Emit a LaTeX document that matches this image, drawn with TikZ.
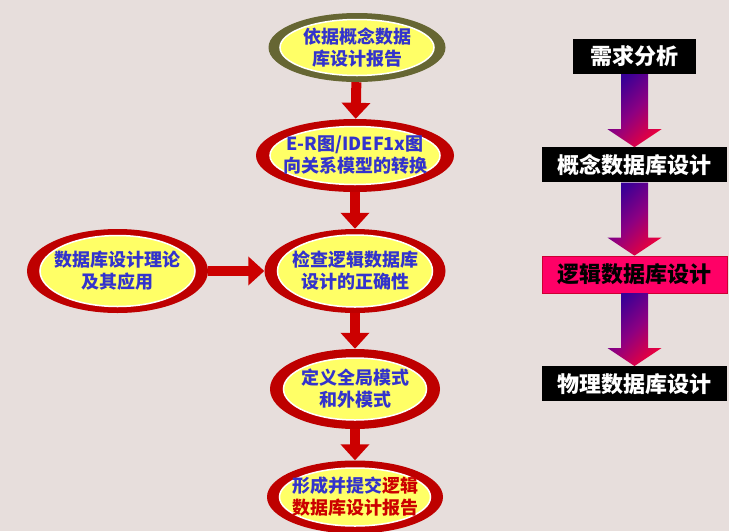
\documentclass[tikz,border=0pt]{standalone}
\usepackage{fontspec}
\newfontfamily\cjk{Noto Sans CJK SC}
\usetikzlibrary{positioning, arrows.meta, shapes.geometric}

\definecolor{bgpaper}{RGB}{231,222,220}
\definecolor{ringred}{RGB}{190,0,0}
\definecolor{ringolive}{RGB}{102,102,51}
\definecolor{coreyellow}{RGB}{255,255,102}
\definecolor{txtblue}{RGB}{51,51,204}
\definecolor{txtred}{RGB}{204,0,0}
\definecolor{flowred}{RGB}{204,0,0}
\definecolor{stagepink}{RGB}{255,0,102}
\definecolor{stageedge}{RGB}{204,0,51}
\definecolor{shadeblue}{RGB}{55,0,150}
\definecolor{shademid}{RGB}{140,0,130}
\definecolor{shadered}{RGB}{235,0,60}

\begin{document}
\begin{tikzpicture}[x=1pt, y=-1pt, node distance=73pt, >=Latex]

\tikzset{
  ring/.style={ellipse, fill=ringred, inner sep=0pt},
  core/.style={
    ellipse, fill=coreyellow, draw=white, line width=1.5pt,
    inner xsep=-30pt, inner ysep=-8pt, align=center, text=txtblue,
    font=\cjk\bfseries\fontsize{18}{22}\selectfont
  },
  flow/.style={-{Triangle[width=28pt, length=16pt]}, line width=10pt, draw=flowred},
  stagebox/.style={
    rectangle, fill=black, text=white, inner sep=0pt,
    minimum width=185pt, minimum height=35pt,
    font=\cjk\bfseries\fontsize{22}{26}\selectfont
  },
  stagearrow/.style={left color=shadeblue, right color=shadered,
    middle color=shademid, shading angle=45}
}

% background
\useasboundingbox (0,0) rectangle (729,531);
\fill[bgpaper] (0,0) rectangle (729,531);

% =========================================================
% Left: flow of the logical design
% =========================================================
\node[ring, fill=ringolive, minimum width=177pt, minimum height=69pt] (plan) at (357,47.5) {};
\node[core, minimum width=154pt, minimum height=56pt] (plantext) at (plan) {依据概念数据\\库设计报告};

\node[ring, minimum width=198pt, minimum height=73pt] (er) at (355,155.5) {};
\node[core, minimum width=170pt, minimum height=58pt] (ertext) at (er) {E-R图/IDEF1x图\\向关系模型的转换};

\node[ring, minimum width=181pt, minimum height=84pt] (check) at (355,271) {};
\node[core, minimum width=155pt, minimum height=72pt] (checktext) at (check) {检查逻辑数据库\\设计的正确性};

\node[ring, minimum width=181pt, minimum height=84pt] (theory) at (117.5,271) {};
\node[core, minimum width=155pt, minimum height=71pt] (theorytext) at (theory) {数据库设计理论\\及其应用};

\node[ring, minimum width=170pt, minimum height=80pt] (schema) at (355,389) {};
\node[core, minimum width=143pt, minimum height=62pt] (schematext) at (schema) {定义全局模式\\和外模式};

\node[ring, minimum width=176pt, minimum height=73pt] (report) at (355,497) {};
\node[core, minimum width=151pt, minimum height=58pt] (reporttext) at (report)
  {形成并提交\textcolor{txtred}{逻辑}\\\textcolor{txtred}{数据库设计报告}};

\draw[flow] (plan) -- (er);
\draw[flow] (er) -- (check);
\draw[flow] (check) -- (schema);
\draw[flow] (schema) -- (report);
\draw[flow] (theory) -- (check);

% =========================================================
% Right: design stages
% =========================================================
\node[stagebox, minimum width=123pt] (req) at (634.5,56.5) {需求分析};
\node[stagebox, below=of req] (concept) {概念数据库设计};
\node[stagebox, below=of concept, fill=stagepink, draw=stageedge, text=black,
  minimum height=37pt] (logical) {逻辑数据库设计};
\node[stagebox, below=of logical] (physical) {物理数据库设计};

\foreach \a/\b in {req/concept, concept/logical, logical/physical}
  \shade[stagearrow] ([xshift=-13.5pt]\a.south) -- ([xshift=13.5pt]\a.south)
    -- ([xshift=13.5pt, yshift=18pt]\b.north) -- ([xshift=27pt, yshift=18pt]\b.north)
    -- (\b.north) -- ([xshift=-27pt, yshift=18pt]\b.north)
    -- ([xshift=-13.5pt, yshift=18pt]\b.north) -- cycle;

\end{tikzpicture}
\end{document}
